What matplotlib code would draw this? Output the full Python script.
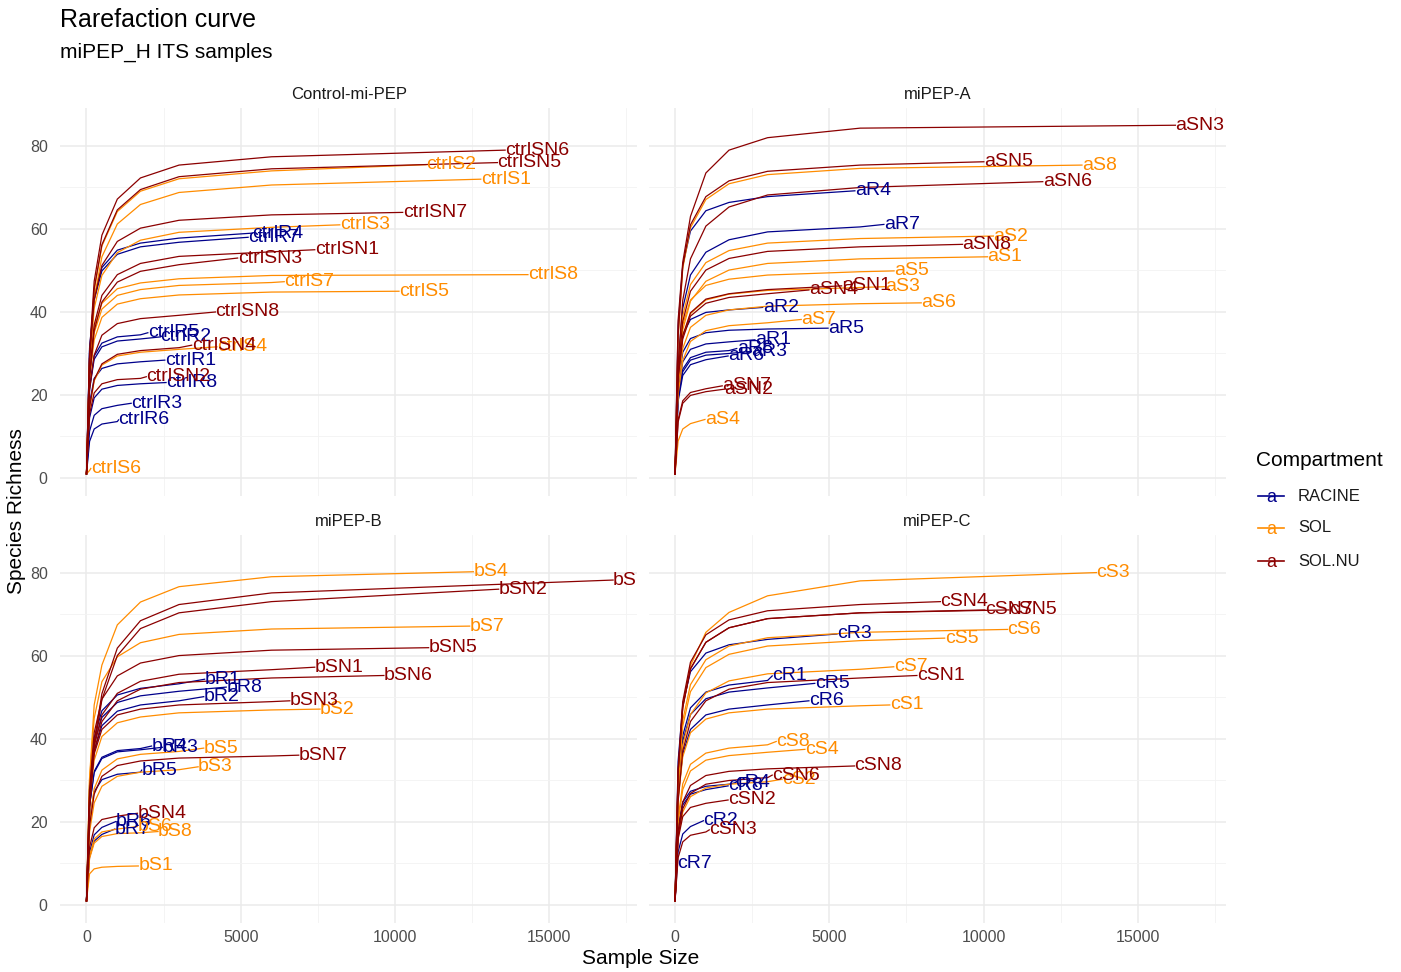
import matplotlib
matplotlib.use('Agg')
import matplotlib.pyplot as plt
from matplotlib.lines import Line2D

plt.rcParams['font.family'] = ['Liberation Sans', 'DejaVu Sans']

STEPS = [1, 100, 250, 500, 1000, 1750, 3000, 6000]
SAMPLES = ['R1', 'R2', 'R3', 'R4', 'R5', 'R6', 'R7', 'R8',
           'S1', 'S2', 'S3', 'S4', 'S5', 'S6', 'S7', 'S8',
           'SN1', 'SN2', 'SN3', 'SN4', 'SN5', 'SN6', 'SN7', 'SN8']
COLORS = {'RACINE': '#00008B', 'SOL': '#FF8C00', 'SOL.NU': '#8B0000'}

# Control-mi-PEP
ctrl_depth = [2540, 2400, 1450, 5370, 1990, 1040, 5240, 2580,
              12780, 11000, 8210, 4230, 10130, 140, 6410, 14310,
              7400, 1940, 4900, 3410, 13320, 13570, 10250, 4180]
ctrl_rich = [28.4, 34, 18, 59, 35, 14, 58, 23,
             72, 75.5, 61, 31.6, 45, 2.3, 47.3, 49,
             55, 24.4, 53, 32, 76, 79, 64, 40]
ctrl_curve = [[18, 24, 26.4, 27.5, 28], [21.4, 28.6, 31.6, 33, 33.5], [11.3, 15.1, 16.7, 17.5],
              [31.3, 43.7, 50.7, 54.9, 56.6, 57.8], [22, 29.4, 32.5, 34, 34.5],
              [8.8, 11.8, 13, 13.6], [30.7, 42.9, 49.9, 53.9, 55.7, 56.8],
              [14.5, 19.3, 21.4, 22.3, 22.7],
              [27.4, 43.2, 53.3, 61.2, 65.9, 68.8, 70.6], [28.7, 45.3, 55.9, 64.2, 69.1, 72.1, 74],
              [27.5, 40.9, 48.8, 54.3, 57.3, 59.2, 60.4], [16.7, 23.4, 27.2, 29.4, 30.3, 31],
              [23.9, 33.3, 38.7, 41.9, 43.2, 44.1, 44.8], [1.8],
              [25.1, 35, 40.7, 44, 45.4, 46.4, 47.1], [26, 36.3, 42.1, 45.6, 47, 48, 48.8],
              [24.8, 36.9, 44, 49, 51.7, 53.4, 54.5], [15.4, 20.5, 22.7, 23.7, 24],
              [23.9, 35.5, 42.4, 47.2, 49.8, 51.4], [17, 23.7, 27.5, 29.8, 30.7, 31.4],
              [28.9, 45.6, 56.2, 64.6, 69.5, 72.6, 74.5], [30, 47.4, 58.5, 67.2, 72.3, 75.4, 77.4],
              [28.8, 42.9, 51.2, 57, 60.2, 62.1, 63.4], [21.2, 29.6, 34.4, 37.2, 38.4, 39.2]]

# miPEP-A
a_depth = [2590, 2840, 2470, 5830, 4960, 1720, 6770, 2000,
           10130, 10320, 6820, 970, 7100, 7980, 4090, 13190,
           5400, 1600, 16220, 4340, 10010, 11920, 1530, 9320]
a_rich = [33.3, 41.1, 30.5, 69.2, 36.1, 29.4, 61.1, 31.2,
          53.3, 58.3, 46.1, 14.1, 49.9, 42.2, 38.2, 75.4,
          46.3, 21.4, 85, 45.3, 76.2, 71.4, 22.2, 56.3]
a_curve = [[21, 28, 31, 32.3, 32.8], [25.9, 34.5, 38.2, 39.9, 40.5], [19.2, 25.6, 28.4, 29.6, 30],
           [36.7, 51.2, 59.5, 64.4, 66.4, 67.8], [22.7, 30.3, 33.6, 35, 35.6, 35.9],
           [18.5, 24.7, 27.3, 28.5], [27.5, 40.9, 48.9, 54.4, 57.4, 59.3, 60.5],
           [19.7, 26.2, 29, 30.3, 30.7],
           [24, 35.7, 42.6, 47.4, 50.1, 51.7, 52.8], [26.2, 39.1, 46.6, 51.9, 54.8, 56.6, 57.7],
           [24.4, 34.1, 39.6, 42.9, 44.3, 45.2, 45.9], [8.9, 11.8, 13.1],
           [26.4, 36.9, 42.9, 46.4, 47.9, 48.9, 49.7], [22.4, 31.2, 36.3, 39.2, 40.5, 41.4, 42],
           [20.2, 28.3, 32.9, 35.5, 36.7, 37.4], [33.9, 50.5, 60.3, 67.1, 70.9, 73.1, 74.6],
           [24.5, 34.3, 39.8, 43.1, 44.4, 45.4], [13.5, 18, 19.9, 20.8],
           [38, 52, 63, 73.5, 79, 82, 84.3], [24, 33.5, 39, 42.1, 43.5, 44.4],
           [34.3, 51, 61, 67.8, 71.6, 73.9, 75.4], [27.1, 42.8, 52.8, 60.7, 65.3, 68.2, 70],
           [14, 18.6, 20.6, 21.5], [25.3, 37.7, 45, 50.1, 52.9, 54.6, 55.7]]

# miPEP-B
b_depth = [3830, 3800, 2460, 2110, 1790, 950, 920, 4530,
           1680, 7570, 3620, 12540, 3800, 1650, 12420, 2320,
           7400, 13360, 6590, 1650, 11090, 9640, 6880, 17070]
b_rich = [54.4, 50.2, 38.0, 38.3, 32.5, 20.1, 18.3, 52.5,
          9.4, 47.2, 33.3, 80.3, 37.8, 18.9, 67.2, 17.7,
          57.3, 76.1, 49.2, 22.1, 62, 55.3, 36.1, 78.3]
b_curve = [[28.8, 40.3, 46.8, 50.6, 52.2, 53.3], [26.6, 37.1, 43.2, 46.7, 48.2, 49.2],
           [23.9, 31.9, 35.3, 36.9, 37.4], [24.1, 32.2, 35.6, 37.2, 37.7],
           [20.5, 27.3, 30.2, 31.5, 32], [12.7, 16.9, 18.7], [11.5, 15.4, 17],
           [27.8, 38.9, 45.2, 48.8, 50.4, 51.5],
           [7.5, 8.7, 9.1, 9.3], [25, 34.9, 40.6, 43.9, 45.3, 46.3, 47],
           [17.6, 24.6, 28.6, 31, 32, 32.6], [30.5, 48.2, 57.8, 67.5, 73, 76.7, 79.1],
           [20, 28, 32.5, 35.2, 36.3, 37], [11.9, 15.9, 17.6, 18.3],
           [30.2, 45, 53.8, 59.8, 63.2, 65.2, 66.5], [11.2, 14.9, 16.5, 17.2, 17.4],
           [25.8, 38.4, 45.8, 51, 53.9, 55.6, 56.7], [22.8, 38, 49.5, 60.1, 66.6, 70.4, 73.1],
           [26.1, 36.4, 42.3, 45.8, 47.2, 48.2, 49], [13.9, 18.6, 20.6, 21.4],
           [27.9, 41.5, 49.6, 55.2, 58.3, 60.1, 61.4], [24.9, 37.1, 44.2, 49.2, 52, 53.6, 54.7],
           [19.1, 26.7, 31, 33.6, 34.7, 35.4, 35.9], [23.5, 39.2, 50.9, 61.9, 68.5, 72.4, 75.2]]

# miPEP-C
c_depth = [3150, 920, 5250, 1960, 4530, 4340, 60, 1720,
           6960, 3470, 13660, 4210, 8740, 10780, 7090, 3280,
           7840, 1720, 1110, 8600, 10820, 3150, 10040, 5820]
c_rich = [55.2, 20.3, 65.3, 29.5, 53.4, 49.2, 10, 28.7,
          48.2, 30.3, 80.1, 37.5, 64.3, 66.4, 57.4, 39.4,
          55.3, 25.3, 18.1, 73.1, 71.1, 31.3, 71.1, 33.5]
c_curve = [[29.3, 40.8, 47.5, 51.3, 53, 54.1], [12.8, 17.1, 18.9],
           [34.6, 48.3, 56.2, 60.7, 62.7, 64], [18.6, 24.8, 27.4, 28.6, 29.1],
           [28.3, 39.5, 45.9, 49.7, 51.3, 52.3], [26.1, 36.4, 42.3, 45.8, 47.2, 48.2], [],
           [18.1, 24.1, 26.7, 27.8],
           [25.5, 35.7, 41.5, 44.8, 46.3, 47.2, 48], [16.1, 22.4, 26.1, 28.2, 29.1, 29.7],
           [28.8, 48, 57.7, 65.7, 70.5, 74.5, 78.1], [19.9, 27.8, 32.3, 34.9, 36, 36.8],
           [28.9, 43.1, 51.4, 57.2, 60.4, 62.4, 63.7], [29.9, 44.5, 53.1, 59.1, 62.4, 64.4, 65.7],
           [25.8, 38.5, 45.9, 51.1, 54, 55.7, 56.8], [20.9, 29.2, 33.9, 36.6, 37.8, 38.6],
           [24.9, 37.1, 44.2, 49.2, 52, 53.6, 54.7], [15.9, 21.3, 23.5, 24.5],
           [11.4, 15.2, 16.8, 17.6], [32.9, 49, 58.5, 65.1, 68.7, 70.9, 72.4],
           [32, 47.6, 56.9, 63.3, 66.8, 69, 70.4], [16.6, 23.2, 26.9, 29.1, 30, 30.7],
           [32, 47.6, 56.9, 63.3, 66.8, 69, 70.4], [17.8, 24.8, 28.8, 31.2, 32.2, 32.8]]

panels = [('Control-mi-PEP', 'ctrl', ctrl_depth, ctrl_rich, ctrl_curve),
          ('miPEP-A', 'a', a_depth, a_rich, a_curve),
          ('miPEP-B', 'b', b_depth, b_rich, b_curve),
          ('miPEP-C', 'c', c_depth, c_rich, c_curve)]


def compartment(name):
    if name.startswith('SN'):
        return 'SOL.NU'
    if name.startswith('S'):
        return 'SOL'
    return 'RACINE'


fig = plt.figure(figsize=(14.01, 9.72), dpi=100)
positions = [(0.0430, 0.4901), (0.4631, 0.4901), (0.0430, 0.0508), (0.4631, 0.0508)]
W, H = 0.4118, 0.3992

for i, (title, prefix, depth, rich, curve) in enumerate(panels):
    ax = fig.add_axes([positions[i][0], positions[i][1], W, H])
    ax.set_xlim(-850, 17850)
    ax.set_ylim(-4.25, 89.25)
    ax.set_xticks([0, 5000, 10000, 15000])
    ax.set_xticks([2500, 7500, 12500, 17500], minor=True)
    ax.set_yticks([0, 20, 40, 60, 80])
    ax.set_yticks([10, 30, 50, 70], minor=True)
    ax.grid(which='major', color='#EBEBEB', lw=1.1)
    ax.grid(which='minor', color='#F3F3F3', lw=0.6)
    ax.set_axisbelow(True)
    for spine in ax.spines.values():
        spine.set_visible(False)
    ax.tick_params(which='both', length=0, labelsize=11.5, labelcolor='#4D4D4D')
    ax.tick_params(axis='x', pad=5)
    ax.tick_params(axis='y', pad=9)
    if i < 2:
        ax.tick_params(labelbottom=False)
    if i % 2:
        ax.tick_params(labelleft=False)
    ax.set_title(title, fontsize=12, color='#1A1A1A', pad=6)

    for name, d, r, vals in zip(SAMPLES, depth, rich, curve):
        col = COLORS[compartment(name)]
        xs = [1] + [s for s in STEPS[1:] if s < d] + [d]
        ys = [1] + vals[:len(xs) - 2] + [r]
        ax.plot(xs[:len(ys)], ys, color=col, lw=0.9)
        ax.text(d, r, prefix + name, color=col, fontsize=14, ha='left',
                va='center', clip_on=True)

# Titles and axis labels
fig.text(60 / 1401, 1 - 20 / 972, 'Rarefaction curve', fontsize=18, va='center')
fig.text(60 / 1401, 1 - 52 / 972, 'miPEP_H ITS samples', fontsize=15, va='center')
fig.text(641 / 1401, 1 - 958 / 972, 'Sample Size', fontsize=15, ha='center', va='center')
fig.text(17 / 1401, 1 - 511 / 972, 'Species Richness', fontsize=15, ha='center',
         va='center', rotation=90)

# Legend
fig.text(1256 / 1401, 1 - 460 / 972, 'Compartment', fontsize=15, va='center')
for lab, y in zip(COLORS, [496, 528, 561]):
    yf = 1 - y / 972
    fig.add_artist(Line2D([1258 / 1401, 1284 / 1401], [yf, yf], color=COLORS[lab], lw=1.2))
    fig.text(1271 / 1401, yf - 0.002, 'a', color=COLORS[lab], fontsize=13,
             ha='center', va='center')
    fig.text(1298 / 1401, yf, lab, fontsize=12, color='#1A1A1A', va='center')

fig.savefig('out.png', dpi=100)
